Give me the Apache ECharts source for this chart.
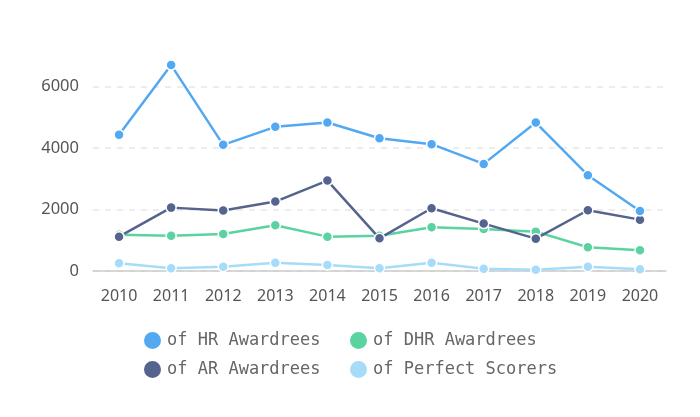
<!DOCTYPE html>
<html>
<head>
<meta charset="utf-8">
<script src="https://cdn.jsdelivr.net/npm/echarts@6/dist/echarts.min.js"></script>
<style>html,body{margin:0;padding:0;background:#fff}#c{width:700px;height:417px}</style>
</head>
<body>
<div id="c"></div>
<script>
const categories = ['2010','2011','2012','2013','2014','2015','2016','2017','2018','2019','2020'];
const hrAwardees = [4430, 6700, 4104, 4690, 4830, 4320, 4127, 3485, 4830, 3117, 1954];
const dhrAwardees = [1180, 1150, 1205, 1487, 1118, 1150, 1422, 1368, 1281, 771, 673];
const arAwardees = [1118, 2062, 1965, 2258, 2942, 1064, 2042, 1542, 1053, 1976, 1671];
const perfectScorers = [250, 87, 141, 272, 195, 87, 272, 70, 43, 141, 54];
const seriesNames = ['of HR Awardrees', 'of DHR Awardrees', 'of AR Awardrees', 'of Perfect Scorers'];
const colors = ['#52a9f2', '#5ad3a0', '#55648e', '#a6dcf9'];

const chart = echarts.init(document.getElementById('c'));
const mk = (name, data, color, z) => ({
  name, type: 'line', data, z,
  symbol: 'circle', symbolSize: 10,
  lineStyle: { width: 2.5, color },
  itemStyle: { color, borderColor: '#fff', borderWidth: 1.5 },
  emphasis: { disabled: true }
});
const legendBase = {
  top: 325, orient: 'vertical',
  itemWidth: 19, itemHeight: 19, itemGap: 8,
  icon: 'circle',
  textStyle: { fontFamily: 'DejaVu Sans Mono', fontSize: 17, color: '#666' }
};
chart.setOption({
  animation: false,
  color: colors,
  grid: { left: 93, right: 34, top: 62, bottom: 146, containLabel: false },
  legend: [
    Object.assign({}, legendBase, { left: 137, data: [seriesNames[0], seriesNames[2]] }),
    Object.assign({}, legendBase, { left: 343, data: [seriesNames[1], seriesNames[3]] })
  ],
  xAxis: {
    type: 'category', data: categories, boundaryGap: true,
    axisLine: { lineStyle: { color: '#cccccc', width: 1.5 } },
    axisTick: { alignWithLabel: true, length: 5, lineStyle: { color: '#cccccc' } },
    axisLabel: { fontFamily: 'Noto Sans', fontSize: 16, color: '#555', margin: 17, interval: 0 }
  },
  yAxis: {
    type: 'value', min: 0, max: 6800, interval: 2000,
    axisLine: { show: false }, axisTick: { show: false },
    axisLabel: { fontFamily: 'Noto Sans', fontSize: 16.5, color: '#555', margin: 14, showMaxLabel: false,
      formatter: v => String(v) },
    splitLine: { showMaxLine: false, lineStyle: { type: [6, 6], color: '#e8e8e8', width: 1.5 } }
  },
  series: [
    mk(seriesNames[0], hrAwardees, colors[0], 4),
    mk(seriesNames[1], dhrAwardees, colors[1], 2),
    mk(seriesNames[2], arAwardees, colors[2], 3),
    mk(seriesNames[3], perfectScorers, colors[3], 1)
  ]
});
</script>
</body>
</html>
